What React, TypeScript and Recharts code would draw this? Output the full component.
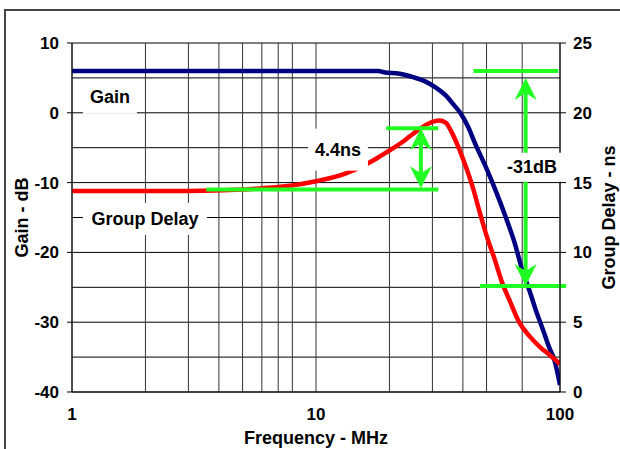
import {
  ComposedChart,
  Line,
  XAxis,
  YAxis,
  CartesianGrid,
  ReferenceLine,
  ReferenceDot,
} from "recharts";

// gain response (left axis, dB)
const gainFreq = [1, 5, 10, 15, 18, 19, 22, 25, 28, 31, 34, 37, 39, 42, 45, 50, 55, 60, 65, 70, 75, 80, 85, 90, 95, 100];
const gainDb = [6, 6, 6, 6, 6, 5.8, 5.6, 5.1, 4.5, 3.6, 2.5, 1, 0, -2, -4.5, -8, -11.5, -15, -18.5, -22.5, -25.5, -28.5, -31, -33.5, -35.5, -39];

// group delay (right axis, ns)
const delayFreq = [1, 3, 5, 6, 8, 10, 13, 16, 18, 20, 23, 25, 28, 30, 32, 34, 36, 38, 41, 44, 47, 50, 54, 58, 62, 68, 75, 83, 90, 100];
const delayNs = [14.4, 14.4, 14.5, 14.6, 14.8, 15.1, 15.6, 16.3, 16.8, 17.3, 18.0, 18.5, 19.1, 19.35, 19.45, 19.3, 18.6, 17.7, 16.2, 14.6, 12.8, 11.2, 9.5, 7.8, 6.6, 5.0, 4.0, 3.2, 2.7, 2.0];

const freqTicks = [1, 10, 100];
const gainTicks = [-40, -30, -20, -10, 0, 10];
const delayTicks = [0, 5, 10, 15, 20, 25];
const gridFreqs = [1, 2, 3, 4, 5, 6, 7, 8, 9, 10, 20, 30, 40, 50, 60, 70, 80, 90, 100];
const gridDb = [-40, -35, -30, -25, -20, -15, -10, -5, 0, 5, 10];

// green markers: from f, to f, level, axis
const markFrom = [3.55, 19.4, 44.2, 47];
const markTo = [31.7, 31.7, 98.4, 106];
const markValue = [14.5, 18.9, 6, -24.8];
const markAxis = ["right", "right", "left", "left"];

// arrows: freq, top, bottom, axis
const arrowFreq = [26.9, 72.3];
const arrowTop = [18.9, 5];
const arrowBottom = [14.6, -24.8];
const arrowAxis = ["right", "left"];

// text notes
const noteText = ["Gain", "Group Delay", "4.4ns", "-31dB"];
const noteFreq = [1.43, 1.99, 12.3, 76.8];
const noteValue = [2.3, -15.2, 17.36, -7.8];
const noteAxis = ["left", "left", "right", "left"];
const noteBox = [
  { w: 54, h: 34 },
  { w: 124, h: 32 },
  { w: 60, h: 42 },
  { w: 70, h: 29 },
];

const gainData = gainFreq.map((f, i) => ({ f, v: gainDb[i] }));
const delayData = delayFreq.map((f, i) => ({ f, v: delayNs[i] }));

const FONT = "'Liberation Sans', Arial, sans-serif";
const GREEN = "#22ff22";
const tickStyle = { fill: "#000", fontSize: 17, fontWeight: "bold", fontFamily: FONT };

function ArrowShape(props: any) {
  const { x1, y1, x2, y2 } = props;
  const x = (x1 + x2) / 2;
  const yt = Math.min(y1, y2);
  const yb = Math.max(y1, y2);
  return (
    <g>
      <line x1={x} y1={yt + 10} x2={x} y2={yb - 10} stroke={GREEN} strokeWidth={4} />
      <polygon points={`${x},${yt} ${x - 11},${yt + 22} ${x},${yt + 15} ${x + 11},${yt + 22}`} fill={GREEN} />
      <polygon points={`${x},${yb} ${x - 11},${yb - 22} ${x},${yb - 15} ${x + 11},${yb - 22}`} fill={GREEN} />
    </g>
  );
}

function noteShape(i: number) {
  return (props: any) => {
    const { cx, cy } = props;
    const { w, h } = noteBox[i];
    return (
      <g>
        <rect x={cx - w / 2} y={cy - h / 2} width={w} height={h} fill="#fff" />
        <text
          x={cx}
          y={cy}
          textAnchor="middle"
          dominantBaseline="central"
          fontFamily={FONT}
          fontWeight="bold"
          fontSize={18}
          fill="#000"
        >
          {noteText[i]}
        </text>
      </g>
    );
  };
}

function rotTitle(text: string, dx: number) {
  return (props: any) => {
    const vb = props.viewBox;
    const cx = vb.x + dx;
    const cy = vb.y + vb.height / 2;
    return (
      <text
        x={cx}
        y={cy}
        transform={`rotate(-90, ${cx}, ${cy})`}
        textAnchor="middle"
        dominantBaseline="central"
        fontFamily={FONT}
        fontWeight="bold"
        fontSize={18}
        fill="#000"
      >
        {text}
      </text>
    );
  };
}

function xTitle(props: any) {
  const vb = props.viewBox;
  return (
    <text
      x={vb.x + vb.width / 2}
      y={vb.y + 46}
      textAnchor="middle"
      dominantBaseline="central"
      fontFamily={FONT}
      fontWeight="bold"
      fontSize={18}
      fill="#000"
    >
      Frequency - MHz
    </text>
  );
}

export default function App() {
  return (
    <div style={{ position: "absolute", left: 0, top: 0, width: 620, height: 449, overflow: "hidden", background: "#fff" }}>
      <div
        style={{
          position: "absolute",
          left: 4,
          top: 9,
          width: 700,
          height: 600,
          borderLeft: "2px solid #444",
          borderTop: "2px solid #444",
        }}
      />
      <ComposedChart
        width={620}
        height={449}
        margin={{ top: 43, right: 0, bottom: 0, left: 0 }}
        style={{ position: "absolute", left: 0, top: 0 }}
      >
        <CartesianGrid yAxisId="left" vertical={false} horizontalValues={gridDb} stroke="#000" strokeWidth={1} />
        <CartesianGrid yAxisId="left" horizontal={false} verticalValues={gridFreqs} stroke="#333" strokeWidth={1} />
        <XAxis
          dataKey="f"
          type="number"
          scale="log"
          domain={[1, 100]}
          ticks={freqTicks}
          allowDataOverflow
          height={57}
          tickLine={false}
          tickSize={0}
          tickMargin={16}
          axisLine={{ stroke: "#000" }}
          tick={tickStyle}
          label={{ content: xTitle }}
        />
        <YAxis
          yAxisId="left"
          type="number"
          domain={[-40, 10]}
          ticks={gainTicks}
          width={72}
          tickSize={5}
          tickMargin={8}
          axisLine={{ stroke: "#000" }}
          tickLine={{ stroke: "#000" }}
          tick={tickStyle}
          label={{ content: rotTitle("Gain - dB", 22) }}
        />
        <YAxis
          yAxisId="right"
          orientation="right"
          type="number"
          domain={[0, 25]}
          ticks={delayTicks}
          width={60}
          tickSize={6}
          tickMargin={7}
          axisLine={{ stroke: "#000" }}
          tickLine={{ stroke: "#000" }}
          tick={tickStyle}
          label={{ content: rotTitle("Group Delay - ns", 49) }}
        />
        <Line
          yAxisId="left"
          data={gainData}
          dataKey="v"
          type="monotone"
          stroke="#000080"
          strokeWidth={4.5}
          dot={false}
          isAnimationActive={false}
        />
        <Line
          yAxisId="right"
          data={delayData}
          dataKey="v"
          type="monotone"
          stroke="#ff0000"
          strokeWidth={4.5}
          dot={false}
          isAnimationActive={false}
        />
        {markFrom.map((f, i) => (
          <ReferenceLine
            key={"m" + i}
            yAxisId={markAxis[i]}
            segment={[
              { x: f, y: markValue[i] },
              { x: markTo[i], y: markValue[i] },
            ]}
            stroke={GREEN}
            strokeWidth={4}
            ifOverflow="visible"
          />
        ))}
        {arrowFreq.map((f, i) => (
          <ReferenceLine
            key={"a" + i}
            yAxisId={arrowAxis[i]}
            segment={[
              { x: f, y: arrowTop[i] },
              { x: f, y: arrowBottom[i] },
            ]}
            shape={ArrowShape}
            ifOverflow="visible"
          />
        ))}
        {noteText.map((t, i) => (
          <ReferenceDot
            key={t}
            yAxisId={noteAxis[i]}
            x={noteFreq[i]}
            y={noteValue[i]}
            r={1}
            ifOverflow="visible"
            shape={noteShape(i)}
          />
        ))}
      </ComposedChart>
    </div>
  );
}
